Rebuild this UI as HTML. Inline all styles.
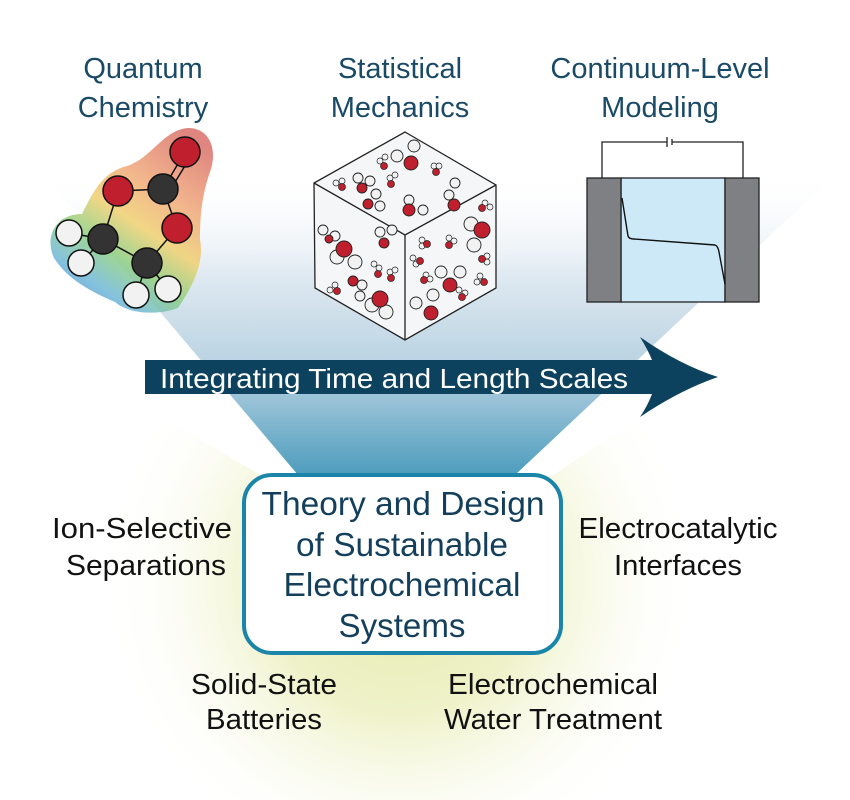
<!DOCTYPE html>
<html><head><meta charset="utf-8"><style>
html,body{margin:0;padding:0;background:#fff;}
svg{display:block;}
text{font-family:"Liberation Sans",Arial,sans-serif;}
</style></head><body>
<svg width="850" height="800" viewBox="0 0 850 800" xmlns="http://www.w3.org/2000/svg">
<defs>
<linearGradient id="fun" x1="0" y1="0" x2="0" y2="1">
<stop offset="0" stop-color="#ffffff" stop-opacity="0"/>
<stop offset="0.35" stop-color="#dfe9f1"/>
<stop offset="0.65" stop-color="#b8d2e2"/>
<stop offset="1" stop-color="#4e9dbd"/>
</linearGradient>
<radialGradient id="yl" cx="400" cy="580" r="300" gradientUnits="userSpaceOnUse">
<stop offset="0" stop-color="#e6ebae"/>
<stop offset="0.45" stop-color="#eff2c9"/>
<stop offset="1" stop-color="#ffffff" stop-opacity="0"/>
</radialGradient>
<linearGradient id="blob2" x1="0.8" y1="0" x2="0.2" y2="1">
<stop offset="0" stop-color="#d9706a"/>
<stop offset="0.3" stop-color="#f0a878"/>
<stop offset="0.5" stop-color="#f0d070"/>
<stop offset="0.68" stop-color="#8fcf80"/>
<stop offset="0.85" stop-color="#6fb8d8"/>
<stop offset="1" stop-color="#5b8fd0"/>
</linearGradient>
</defs>

<polygon points="262,476 150,410 0,410 0,800 850,800 850,410 650,410 552,476" fill="url(#yl)"/>
<polygon points="40,170 840,170 515,475 298,475" fill="url(#fun)"/>

<g fill="#1a4a66" font-size="29" text-anchor="middle">
<text x="143" y="78">Quantum</text>
<text x="143" y="117">Chemistry</text>
<text x="400" y="78">Statistical</text>
<text x="400" y="117">Mechanics</text>
<text x="660" y="78">Continuum-Level</text>
<text x="660" y="117">Modeling</text>
</g>

<g>
<path d="M188,128 C210,128 218,150 210,172 C202,195 200,215 200,240 C205,265 190,290 178,308 C160,315 130,315 115,302 C92,292 68,280 54,258 C44,236 56,214 82,214 C92,194 102,172 127,166 C152,158 163,130 188,128 Z" fill="url(#blob2)" opacity="0.85"/>
<g stroke="#111" stroke-width="1.5">
<line x1="185" y1="152" x2="163" y2="189"/>
<line x1="191" y1="156" x2="169" y2="192"/>
<line x1="163" y1="189" x2="118" y2="191"/>
<line x1="163" y1="189" x2="177" y2="228"/>
<line x1="118" y1="191" x2="103" y2="239"/>
<line x1="177" y1="228" x2="147" y2="263"/>
<line x1="103" y1="239" x2="147" y2="263"/>
<line x1="103" y1="239" x2="69" y2="233"/>
<line x1="103" y1="239" x2="81" y2="263"/>
<line x1="147" y1="263" x2="136" y2="295"/>
<line x1="147" y1="263" x2="168" y2="289"/>
</g>
<g stroke="#111" stroke-width="1.5">
<circle cx="185" cy="152" r="15" fill="#c01f2e"/>
<circle cx="163" cy="189" r="15" fill="#333"/>
<circle cx="118" cy="191" r="15" fill="#c01f2e"/>
<circle cx="177" cy="228" r="15" fill="#c01f2e"/>
<circle cx="103" cy="239" r="15" fill="#333"/>
<circle cx="147" cy="263" r="15" fill="#333"/>
<circle cx="69" cy="233" r="13" fill="#f2f2f2"/>
<circle cx="81" cy="263" r="13" fill="#f2f2f2"/>
<circle cx="136" cy="295" r="13" fill="#f2f2f2"/>
<circle cx="168" cy="289" r="13" fill="#f2f2f2"/>
</g>
</g>

<g stroke="#222" stroke-width="1.3">
<polygon points="405,132 496,185 496,288 405,340 315,288 314,183" fill="#f4f6f8"/>
<polyline points="314,183 405,235 496,185" fill="none"/>
<line x1="405" y1="235" x2="405" y2="340"/>
</g>
<g stroke="#222" stroke-width="0.9">
<g fill="#f2f2f2">
<circle cx="397" cy="156" r="6"/><circle cx="414" cy="146" r="6"/>
<circle cx="358" cy="178" r="5"/><circle cx="370" cy="181" r="5"/>
<circle cx="376" cy="194" r="5"/><circle cx="380" cy="206" r="5"/>
<circle cx="409" cy="200" r="5"/><circle cx="423" cy="210" r="5"/>
<circle cx="455" cy="183" r="5"/><circle cx="449" cy="195" r="5"/>
<circle cx="323" cy="230" r="5"/><circle cx="335" cy="236" r="5"/>
<circle cx="337" cy="257" r="7"/><circle cx="355" cy="262" r="7"/>
<circle cx="380" cy="232" r="5"/><circle cx="392" cy="230" r="5"/>
<circle cx="362" cy="285" r="5"/><circle cx="360" cy="296" r="5"/>
<circle cx="372" cy="305" r="7"/><circle cx="386" cy="312" r="7"/>
<circle cx="471" cy="224" r="7"/><circle cx="474" cy="245" r="7"/>
<circle cx="441" cy="272" r="6"/><circle cx="460" cy="272" r="6"/>
<circle cx="416" cy="303" r="6"/><circle cx="433" cy="295" r="6"/>
</g>
<g fill="#c01f2e">
<circle cx="411" cy="163" r="7"/>
<circle cx="362" cy="188" r="5"/>
<circle cx="368" cy="204" r="5"/>
<circle cx="409" cy="210" r="6"/>
<circle cx="454" cy="205" r="6"/>
<circle cx="329" cy="239" r="4"/>
<circle cx="344" cy="249" r="8"/>
<circle cx="384" cy="243" r="5"/>
<circle cx="353" cy="281" r="5"/>
<circle cx="380" cy="299" r="8"/>
<circle cx="482" cy="230" r="8"/>
<circle cx="450" cy="285" r="7"/>
<circle cx="431" cy="313" r="7"/>
</g>
<g fill="#f2f2f2" stroke-width="0.7">
<circle cx="380" cy="161" r="3"/><circle cx="385" cy="157" r="3"/>
<circle cx="434" cy="166" r="3"/><circle cx="439" cy="166" r="3"/>
<circle cx="336" cy="183" r="3"/><circle cx="342" cy="181" r="3"/>
<circle cx="390" cy="178" r="3"/><circle cx="395" cy="175" r="3"/>
<circle cx="374" cy="264" r="3"/><circle cx="379" cy="268" r="3"/>
<circle cx="390" cy="272" r="3"/><circle cx="395" cy="270" r="3"/>
<circle cx="330" cy="290" r="3"/><circle cx="335" cy="285" r="3"/>
<circle cx="422" cy="240" r="3"/><circle cx="422" cy="246" r="3"/>
<circle cx="449" cy="238" r="3"/><circle cx="454" cy="241" r="3"/>
<circle cx="413" cy="258" r="3"/><circle cx="416" cy="264" r="3"/>
<circle cx="426" cy="275" r="3"/><circle cx="430" cy="279" r="3"/>
<circle cx="485" cy="203" r="3"/><circle cx="490" cy="207" r="3"/>
<circle cx="487" cy="256" r="3"/><circle cx="487" cy="262" r="3"/>
<circle cx="480" cy="276" r="3"/><circle cx="477" cy="282" r="3"/>
<circle cx="459" cy="290" r="3"/><circle cx="465" cy="293" r="3"/>
</g>
<g fill="#c01f2e" stroke-width="0.7">
<circle cx="384" cy="166" r="3.5"/>
<circle cx="436" cy="172" r="3.5"/>
<circle cx="342" cy="187" r="3.5"/>
<circle cx="391" cy="184" r="3.5"/>
<circle cx="378" cy="274" r="3.5"/>
<circle cx="391" cy="278" r="3.5"/>
<circle cx="337" cy="291" r="3.5"/>
<circle cx="427" cy="244" r="3.5"/>
<circle cx="449" cy="245" r="3.5"/>
<circle cx="420" cy="261" r="3.5"/>
<circle cx="424" cy="280" r="3.5"/>
<circle cx="482" cy="208" r="3.5"/>
<circle cx="482" cy="259" r="3.5"/>
<circle cx="484" cy="282" r="3.5"/>
<circle cx="462" cy="297" r="3.5"/>
</g>
</g>

<g stroke="#222" stroke-width="1.3" fill="none">
<polyline points="602,178 602,142 667,142"/>
<polyline points="672,142 743,142 743,178"/>
<line x1="667" y1="137" x2="667" y2="147"/>
<line x1="672" y1="139" x2="672" y2="145"/>
</g>
<rect x="621" y="178" width="104" height="124" fill="#cde9f7" stroke="#222" stroke-width="1.3"/>
<rect x="587" y="178" width="34" height="124" fill="#7f8083" stroke="#222" stroke-width="1.3"/>
<rect x="725" y="178" width="34" height="124" fill="#7f8083" stroke="#222" stroke-width="1.3"/>
<path d="M622,198 L628,236 Q629,239 634,239 L715,245 Q718,246 719,252 L725,284" fill="none" stroke="#111" stroke-width="1.4"/>

<path d="M145,360 L652,360 Q648,350 640,337 Q680,365 718,377 Q680,390 640,417 Q648,405 652,394 L145,394 Z" fill="#0d425e"/>
<text x="160" y="388" fill="#fff" font-size="28" textLength="468" lengthAdjust="spacingAndGlyphs">Integrating Time and Length Scales</text>

<rect x="244" y="475" width="317" height="178" rx="28" fill="#fff" stroke="#1a85a8" stroke-width="4"/>
<g fill="#143f5c" font-size="33" text-anchor="middle">
<text x="403" y="515" textLength="283" lengthAdjust="spacingAndGlyphs">Theory and Design</text>
<text x="402" y="556" textLength="212" lengthAdjust="spacingAndGlyphs">of Sustainable</text>
<text x="402" y="596" textLength="237" lengthAdjust="spacingAndGlyphs">Electrochemical</text>
<text x="402" y="637" textLength="127" lengthAdjust="spacingAndGlyphs">Systems</text>
</g>

<g fill="#111" font-size="29" text-anchor="middle">
<text x="142" y="538" textLength="180" lengthAdjust="spacingAndGlyphs">Ion-Selective</text>
<text x="146" y="575" textLength="160" lengthAdjust="spacingAndGlyphs">Separations</text>
<text x="678" y="538" textLength="199" lengthAdjust="spacingAndGlyphs">Electrocatalytic</text>
<text x="678" y="575" textLength="128" lengthAdjust="spacingAndGlyphs">Interfaces</text>
<text x="264" y="694" textLength="146" lengthAdjust="spacingAndGlyphs">Solid-State</text>
<text x="264" y="729" textLength="116" lengthAdjust="spacingAndGlyphs">Batteries</text>
<text x="553" y="694" textLength="210" lengthAdjust="spacingAndGlyphs">Electrochemical</text>
<text x="553" y="729" textLength="218" lengthAdjust="spacingAndGlyphs">Water Treatment</text>
</g>
</svg>
</body></html>
